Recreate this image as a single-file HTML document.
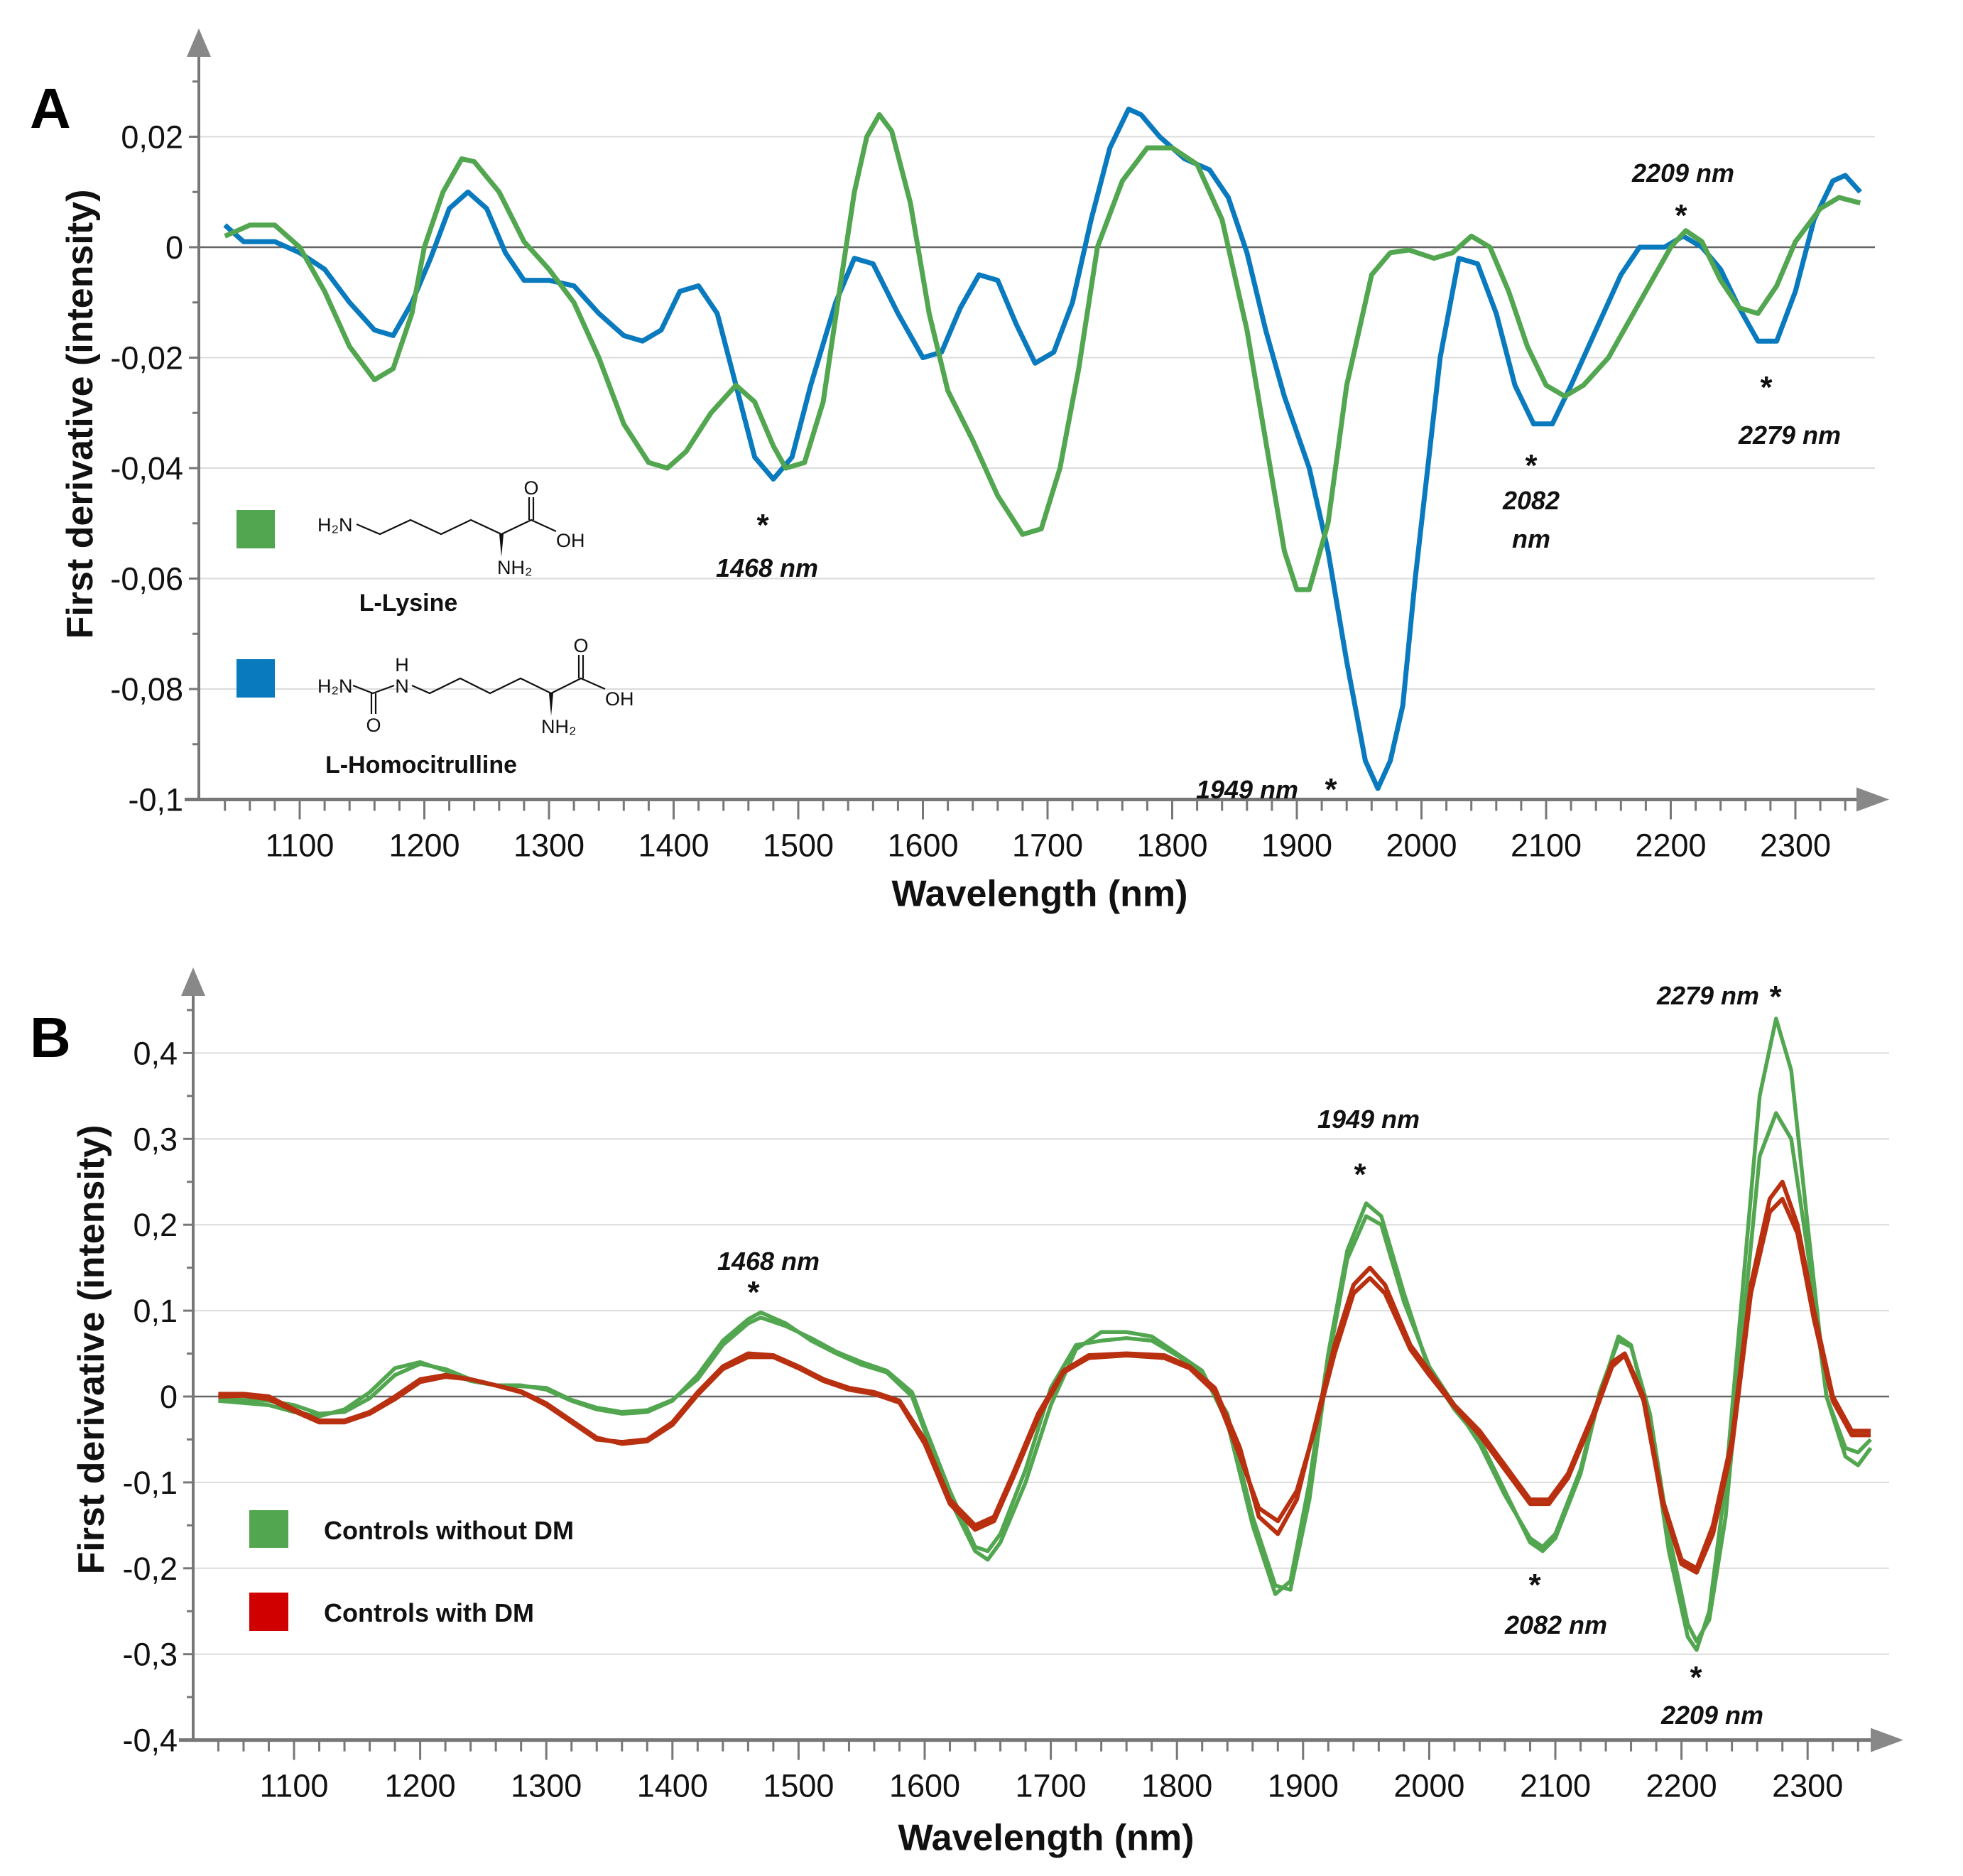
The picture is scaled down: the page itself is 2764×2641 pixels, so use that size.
<!DOCTYPE html>
<html><head><meta charset="utf-8"><style>
html,body{margin:0;padding:0;background:#fff}
svg{display:block}
text{font-family:"Liberation Sans",sans-serif}
</style></head><body>
<svg id="fig" width="2764" height="2641" viewBox="0 0 2764 2641" xmlns="http://www.w3.org/2000/svg">
<g id="panelA"></g>
<g id="panelB"></g>
</svg>
<script>
// ---- Panel A data ----
const aLysNm=[1040,1060,1080,1100,1120,1140,1160,1175,1190,1200,1215,1230,1240,1260,1280,1300,1320,1340,1360,1380,1395,1410,1430,1450,1465,1480,1490,1505,1520,1535,1545,1555,1565,1575,1590,1605,1620,1640,1660,1680,1695,1710,1725,1740,1760,1780,1800,1820,1840,1860,1875,1890,1900,1910,1925,1940,1960,1975,1990,2010,2025,2040,2055,2070,2085,2100,2115,2130,2150,2170,2190,2200,2212,2225,2240,2255,2270,2285,2300,2320,2335,2352];
const aLysVal=[0.002,0.004,0.004,0,-0.008,-0.018,-0.024,-0.022,-0.012,0,0.01,0.016,0.0155,0.01,0.001,-0.004,-0.01,-0.02,-0.032,-0.039,-0.04,-0.037,-0.03,-0.025,-0.028,-0.036,-0.04,-0.039,-0.028,-0.005,0.01,0.02,0.024,0.021,0.008,-0.012,-0.026,-0.035,-0.045,-0.052,-0.051,-0.04,-0.022,0,0.012,0.018,0.018,0.015,0.005,-0.015,-0.035,-0.055,-0.062,-0.062,-0.05,-0.025,-0.005,-0.001,-0.0005,-0.002,-0.001,0.002,0,-0.008,-0.018,-0.025,-0.027,-0.025,-0.02,-0.012,-0.004,0,0.003,0.001,-0.006,-0.011,-0.012,-0.007,0.001,0.007,0.009,0.008];
const aHciNm=[1040,1055,1080,1100,1120,1140,1160,1175,1190,1205,1220,1235,1250,1265,1280,1300,1320,1340,1360,1375,1390,1405,1420,1435,1450,1465,1480,1495,1510,1530,1545,1560,1580,1600,1615,1630,1645,1660,1675,1690,1705,1720,1735,1750,1765,1775,1790,1810,1830,1845,1860,1875,1890,1910,1925,1940,1955,1965,1975,1985,1995,2005,2015,2030,2045,2060,2075,2090,2105,2120,2140,2160,2175,2195,2210,2225,2240,2255,2270,2285,2300,2315,2330,2340,2352];
const aHciVal=[0.004,0.001,0.001,-0.001,-0.004,-0.01,-0.015,-0.016,-0.01,-0.002,0.007,0.01,0.007,-0.001,-0.006,-0.006,-0.007,-0.012,-0.016,-0.017,-0.015,-0.008,-0.007,-0.012,-0.025,-0.038,-0.042,-0.038,-0.025,-0.01,-0.002,-0.003,-0.012,-0.02,-0.019,-0.011,-0.005,-0.006,-0.014,-0.021,-0.019,-0.01,0.005,0.018,0.025,0.024,0.02,0.016,0.014,0.009,-0.001,-0.015,-0.027,-0.04,-0.055,-0.075,-0.093,-0.098,-0.093,-0.083,-0.06,-0.04,-0.02,-0.002,-0.003,-0.012,-0.025,-0.032,-0.032,-0.025,-0.015,-0.005,0,0,0.002,0,-0.004,-0.011,-0.017,-0.017,-0.008,0.005,0.012,0.013,0.01];
const aYTicks=[0.02,0,-0.02,-0.04,-0.06,-0.08,-0.1];
const aYLabels=["0,02","0","-0,02","-0,04","-0,06","-0,08","-0,1"];
const xTicks=[1100,1200,1300,1400,1500,1600,1700,1800,1900,2000,2100,2200,2300];
// ---- Panel B data ----
const bGreen1Nm=[1040,1080,1100,1120,1140,1160,1180,1200,1220,1240,1260,1280,1300,1320,1340,1360,1380,1400,1420,1440,1460,1470,1490,1510,1530,1550,1570,1590,1600,1620,1640,1650,1660,1680,1700,1720,1740,1760,1780,1800,1820,1840,1860,1878,1890,1905,1920,1935,1950,1962,1980,2000,2020,2040,2060,2080,2090,2100,2120,2135,2150,2160,2175,2190,2205,2212,2222,2235,2250,2262,2275,2287,2300,2315,2330,2340,2350];
const bGreen1Val=[-0.005,-0.01,-0.018,-0.023,-0.015,0.005,0.033,0.04,0.03,0.018,0.013,0.013,0.008,-0.005,-0.015,-0.02,-0.018,-0.005,0.025,0.065,0.09,0.098,0.085,0.065,0.05,0.037,0.028,0,-0.04,-0.12,-0.18,-0.19,-0.17,-0.1,-0.01,0.055,0.075,0.075,0.07,0.05,0.03,-0.03,-0.15,-0.23,-0.215,-0.1,0.05,0.17,0.225,0.21,0.12,0.03,-0.015,-0.05,-0.11,-0.17,-0.18,-0.165,-0.09,0,0.07,0.06,-0.03,-0.18,-0.28,-0.295,-0.25,-0.1,0.15,0.35,0.44,0.38,0.2,0,-0.07,-0.08,-0.06];
const bGreen2Val=[-0.003,-0.005,-0.01,-0.02,-0.018,-0.002,0.025,0.038,0.032,0.02,0.013,0.012,0.01,-0.004,-0.013,-0.018,-0.016,-0.004,0.02,0.06,0.085,0.092,0.082,0.068,0.052,0.04,0.03,0.005,-0.035,-0.11,-0.175,-0.18,-0.16,-0.085,0.01,0.06,0.065,0.068,0.065,0.048,0.028,-0.02,-0.14,-0.22,-0.225,-0.12,0.04,0.16,0.21,0.2,0.11,0.035,-0.01,-0.055,-0.115,-0.165,-0.175,-0.16,-0.085,0.005,0.065,0.058,-0.02,-0.16,-0.265,-0.285,-0.26,-0.14,0.1,0.28,0.33,0.3,0.17,0.0,-0.06,-0.065,-0.05];
const bRed1Nm=[1040,1060,1080,1100,1120,1140,1160,1180,1200,1220,1240,1260,1280,1300,1320,1340,1360,1380,1400,1420,1440,1460,1480,1500,1520,1540,1560,1580,1600,1620,1640,1655,1670,1690,1710,1730,1760,1790,1810,1830,1850,1865,1880,1895,1910,1925,1940,1953,1965,1985,2000,2020,2040,2060,2080,2095,2110,2130,2145,2155,2170,2185,2200,2212,2225,2240,2255,2270,2280,2292,2305,2320,2335,2350];
const bRed1Val=[0.003,0.003,0,-0.015,-0.028,-0.028,-0.018,0,0.02,0.025,0.02,0.013,0.005,-0.01,-0.03,-0.05,-0.053,-0.05,-0.03,0.005,0.035,0.05,0.048,0.035,0.02,0.01,0.005,-0.005,-0.05,-0.12,-0.15,-0.14,-0.09,-0.02,0.03,0.048,0.05,0.048,0.035,0.01,-0.06,-0.14,-0.16,-0.12,-0.03,0.06,0.13,0.15,0.13,0.06,0.03,-0.01,-0.04,-0.08,-0.12,-0.12,-0.09,-0.02,0.04,0.05,0,-0.12,-0.19,-0.2,-0.15,-0.05,0.13,0.23,0.25,0.2,0.1,0,-0.04,-0.04];
const bRed2Val=[0,0.001,-0.003,-0.017,-0.03,-0.03,-0.02,-0.003,0.017,0.023,0.02,0.013,0.006,-0.008,-0.028,-0.048,-0.055,-0.052,-0.033,0.002,0.032,0.046,0.046,0.033,0.018,0.008,0.003,-0.007,-0.055,-0.125,-0.155,-0.145,-0.095,-0.025,0.028,0.045,0.048,0.045,0.033,0.005,-0.07,-0.13,-0.145,-0.11,-0.035,0.05,0.12,0.138,0.12,0.055,0.025,-0.012,-0.045,-0.085,-0.125,-0.125,-0.095,-0.025,0.035,0.048,-0.005,-0.125,-0.195,-0.205,-0.16,-0.06,0.12,0.215,0.23,0.19,0.09,-0.005,-0.045,-0.045];
const bYTicks=[0.4,0.3,0.2,0.1,0,-0.1,-0.2,-0.3,-0.4];
const bYLabels=["0,4","0,3","0,2","0,1","0","-0,1","-0,2","-0,3","-0,4"];

const NS="http://www.w3.org/2000/svg";
function mk(parent,tag,attrs,txt){const e=document.createElementNS(NS,tag);for(const k in attrs)e.setAttribute(k,attrs[k]);if(txt!==undefined)e.textContent=txt;parent.appendChild(e);return e;}

function panel(g,cfg){
  const xs=v=>cfg.x0+(v-1100)*cfg.kx;
  const ys=v=>cfg.y0-v*cfg.ky;
  cfg.yt.forEach((t,i)=>{
    if(t!==0){const l=mk(g,'line',{x1:cfg.ax,x2:cfg.xEnd-20,y1:ys(t),y2:ys(t),stroke:'#dcdcdc','stroke-width':2});
    
    }
    const tk=mk(g,'line',{x1:cfg.ax-14,x2:cfg.ax,y1:ys(t),y2:ys(t),stroke:'#777','stroke-width':3});
    
    
    const lb=mk(g,'text',{x:cfg.ax-22,y:ys(t)+16,'text-anchor':'end','font-size':45,fill:'#111'},cfg.yl[i]);
    
    
  });
  for(let i=0;i<cfg.yt.length-1;i++){const m=(cfg.yt[i]+cfg.yt[i+1])/2;
    const t=mk(g,'line',{x1:cfg.ax-9,x2:cfg.ax,y1:ys(m),y2:ys(m),stroke:'#777','stroke-width':3});
    
    }
  const mt=mk(g,'line',{x1:cfg.ax-9,x2:cfg.ax,y1:ys(cfg.yt[0]+(cfg.yt[0]-cfg.yt[1])/2),y2:ys(cfg.yt[0]+(cfg.yt[0]-cfg.yt[1])/2),stroke:'#777','stroke-width':3});
  
  
  const z=mk(g,'line',{x1:cfg.ax,x2:cfg.xEnd-20,y1:ys(0),y2:ys(0),stroke:'#666','stroke-width':2.5});
  
  
  const yb=ys(cfg.yt[cfg.yt.length-1]);
  const ya=mk(g,'line',{x1:cfg.ax,x2:cfg.ax,y1:cfg.yTop+30,y2:yb,stroke:'#777','stroke-width':4});
  
  
  const yar=mk(g,'polygon',{points:`${cfg.ax-17},${cfg.yTop+40} ${cfg.ax+17},${cfg.yTop+40} ${cfg.ax},${cfg.yTop}`,fill:'#888'});
  
  
  const xa=mk(g,'line',{x1:cfg.ax-20,x2:cfg.xEnd-30,y1:yb,y2:yb,stroke:'#777','stroke-width':5});
  
  
  const xar=mk(g,'polygon',{points:`${cfg.xEnd-46},${yb-17} ${cfg.xEnd-46},${yb+17} ${cfg.xEnd},${yb}`,fill:'#888'});
  
  
  for(let v=1040;v<=2340;v+=20){const maj=v%100===0;
    const t=mk(g,'line',{x1:xs(v),x2:xs(v),y1:yb,y2:yb+(maj?28:16),stroke:'#777','stroke-width':3});
    
    }
  xTicks.forEach(v=>{const t=mk(g,'text',{x:xs(v),y:yb+80,'text-anchor':'middle','font-size':45,fill:'#111'},String(v));
    
    });
  const xl=mk(g,'text',{x:cfg.xlx,y:yb+cfg.xly,'text-anchor':'middle','font-size':52,'font-weight':'bold',fill:'#111'},'Wavelength (nm)');
  
  
  const yl=mk(g,'text',{x:0,y:0,'text-anchor':'middle','font-size':52,'font-weight':'bold',fill:'#111',transform:`translate(${cfg.ylx},${cfg.yly}) rotate(-90)`},'First derivative (intensity)');
  
  
  const pl=mk(g,'text',{x:cfg.letX,y:cfg.letY,'font-size':80,'font-weight':'bold',fill:'#000'},cfg.letter);
  
  
  cfg.series.forEach(s=>{
    const d=s.nm.map((n,i)=>(i?'L':'M')+xs(n).toFixed(1)+','+ys(s.val[i]).toFixed(1)).join(' ');
    const p=mk(g,'path',{d:d,fill:'none',stroke:s.color,'stroke-width':s.w,'stroke-linejoin':'round'});
    
    
  });
  cfg.ann.forEach(a=>{const t=mk(g,'text',{x:a[0],y:a[1],'text-anchor':'middle','font-size':a[3]||36,'font-weight':'bold','font-style':a[2]==='*'?'normal':'italic',fill:'#111'},a[2]);
    
    });
}

const A=document.getElementById('panelA');
panel(A,{x0:422,kx:1.755,y0:348,ky:7775,ax:280,yTop:40,xEnd:2660,yt:aYTicks,yl:aYLabels,
  xlx:1464,xly:150,ylx:130,yly:583,letX:42,letY:180,letter:'A',
  series:[{nm:aHciNm,val:aHciVal,color:'#0a7abf',w:7,name:'l-homocitrulline-line'},{nm:aLysNm,val:aLysVal,color:'#52a650',w:7,name:'l-lysine-line'}],
  ann:[[2370,256,'2209 nm'],[2367,318,'*',44],[2520,625,'2279 nm'],[2487,560,'*',44],[2156,717,'2082'],[2156,771,'nm'],[2156,670,'*',44],[1080,812,'1468 nm'],[1074,754,'*',44],[1756,1124,'1949 nm'],[1874,1126,'*',44]]});

const B=document.getElementById('panelB');
panel(B,{x0:414,kx:1.776,y0:1966,ky:1209,ax:272,yTop:1362,xEnd:2680,yt:bYTicks,yl:bYLabels,
  xlx:1473,xly:155,ylx:146,yly:1900,letX:42,letY:1488,letter:'B',
  series:[{nm:bGreen1Nm,val:bGreen1Val,color:'#52a650',w:5.5,name:'controls-without-dm-line-1'},{nm:bGreen1Nm,val:bGreen2Val,color:'#52a650',w:5.5,name:'controls-without-dm-line-2'},{nm:bRed1Nm,val:bRed1Val,color:'#b83010',w:6,name:'controls-with-dm-line-1'},{nm:bRed1Nm,val:bRed2Val,color:'#b83010',w:6,name:'controls-with-dm-line-2'}],
  ann:[[2405,1414,'2279 nm'],[2500,1418,'*',44],[1927,1588,'1949 nm'],[1915,1668,'*',44],[1082,1788,'1468 nm'],[1061,1834,'*',44],[2191,2300,'2082 nm'],[2161,2246,'*',44],[2411,2427,'2209 nm'],[2388,2376,'*',44]]});

function rect(g,x,y,w,h,c,name){const r=mk(g,'rect',{x:x,y:y,width:w,height:h,fill:c});}
rect(A,333,718,54,54,'#52a650','legend-swatch-lysine');
rect(A,333,928,54,54,'#0a7abf','legend-swatch-homocitrulline');
rect(B,351,2126,55,53,'#52a650','legend-swatch-without-dm');
rect(B,351,2242,55,54,'#d00000','legend-swatch-with-dm');
function txt(g,x,y,s,size,w,name,anchor){const t=mk(g,'text',{x:x,y:y,'font-size':size,'font-weight':w,fill:'#111','text-anchor':anchor||'start'},s);return t;}
txt(B,456,2167,'Controls without DM',36,'bold','legend-label-without-dm');
txt(B,456,2283,'Controls with DM',36,'bold','legend-label-with-dm');
txt(A,575,860,'L-Lysine',34,'bold','legend-label-lysine','middle');
txt(A,593,1088,'L-Homocitrulline',34,'bold','legend-label-homocitrulline','middle');
function poly(g,pts,name){const p=mk(g,'polyline',{points:pts,fill:'none',stroke:'#111','stroke-width':2.2});}
txt(A,447,748,'H₂N',27,'normal','lysine-h2n');
poly(A,'502,738 535,752 578,732 621,752 663,732 706,752 748,732 783,748','lysine-chain');
poly(A,'745,732 745,700','lysine-co');poly(A,'751,732 751,700','lysine-co2');
txt(A,748,696,'O',27,'normal','lysine-o','middle');
txt(A,783,770,'OH',27,'normal','lysine-oh');
mk(A,'polygon',{points:'703,752 709,752 706,784',fill:'#111'});
txt(A,700,808,'NH₂',27,'normal','lysine-nh2');
txt(A,447,975,'H₂N',27,'normal','hci-h2n');
poly(A,'497,965 525,976 555,965','hci-urea');
poly(A,'523,976 523,1005','hci-co');poly(A,'529,976 529,1005','hci-co2');
txt(A,526,1030,'O',27,'normal','hci-o','middle');
txt(A,566,975,'N',27,'normal','hci-n','middle');
txt(A,566,945,'H',27,'normal','hci-h','middle');
poly(A,'580,965 605,976 648,955 690,976 733,955 776,976 818,955 852,970','hci-chain');
poly(A,'815,955 815,922','hci-co3');poly(A,'821,955 821,922','hci-co4');
txt(A,818,918,'O',27,'normal','hci-o2','middle');
txt(A,852,993,'OH',27,'normal','hci-oh');
mk(A,'polygon',{points:'773,976 779,976 776,1008',fill:'#111'});
txt(A,762,1032,'NH₂',27,'normal','hci-nh2');
</script>
</body></html>
